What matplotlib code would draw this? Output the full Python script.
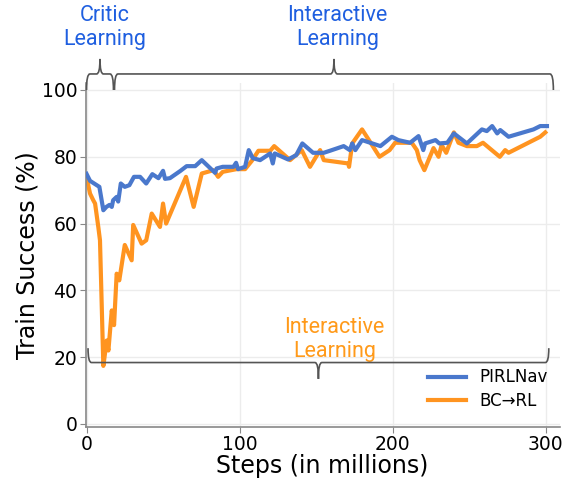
import numpy as np
import matplotlib.pyplot as plt
from matplotlib.path import Path
from matplotlib.patches import PathPatch

# Training curves (steps in millions, success in %)
pirl_steps = [0, 2.3, 6.7, 8.4, 11, 13, 15, 16.5, 17.4, 19.7, 20.7, 22.4, 25, 28,
              31, 35, 39, 43, 47, 50, 51.3, 54.5, 61.4, 65.4, 71, 75.3, 84, 85,
              89, 96, 97.7, 99, 103.6, 106, 108.6, 113.4, 120, 121.7, 123, 131.7,
              137, 141, 148, 155, 159, 168, 172, 173.6, 175.6, 180, 192, 199.5,
              203.7, 211.4, 216.9, 220, 221.2, 228, 230.5, 235.7, 240, 248.5,
              258.3, 261.5, 265, 268.3, 270.3, 275.7, 292, 296.4, 300.8]
pirl_success = [74.9, 72.8, 71.5, 71, 64, 65, 65.6, 65, 67, 68, 66.6, 72, 71,
                71.5, 74, 74, 72, 74.8, 73.6, 75.8, 73.4, 73.6, 75.8, 77.2, 77.2,
                79, 75.2, 76.5, 77, 77, 78.2, 76.3, 77, 82, 79.6, 79, 81, 78,
                81, 79.2, 80.5, 84, 81.2, 81.2, 81.8, 83.2, 82, 84, 82, 85, 83.2,
                86, 85, 84.2, 86.2, 82, 84, 85, 84, 84.2, 87, 84, 88.2, 87.7,
                89.2, 87, 88, 86, 88.2, 89.2, 89.2]

bc_steps = [0, 2.3, 4.4, 5.6, 7.7, 8.8, 11, 13.2, 14.3, 16.5, 18, 19.7, 21.4, 25,
            29.5, 30.5, 36, 39, 42.6, 48, 50, 52, 65, 70, 75.3, 83, 86, 89, 98,
            103.6, 108, 112.3, 120, 122.6, 133, 140.6, 146, 152.6, 155, 171,
            171.5, 173.6, 180, 184.5, 191.4, 198, 201.6, 212.5, 215.8, 217.6,
            220.7, 226.7, 230, 232, 235, 240, 243, 248.5, 255, 259, 270, 273.5,
            275.7, 296.4, 299.7]
bc_success = [74, 69, 67, 66, 59, 55, 17.4, 25, 22, 34, 29.6, 45, 43, 53.6, 49,
              59.6, 54, 55, 63, 59, 66, 60, 74, 65, 75, 76, 74, 75.5, 76.3,
              76.3, 78.8, 81.8, 81.8, 83.2, 79, 82, 77, 82, 79, 78, 77, 84,
              88.2, 85, 80, 82, 84.2, 84.2, 82, 79, 76, 82.6, 80, 83.5, 81.2,
              87.3, 84.2, 83.2, 83.2, 84.2, 80, 82, 81.2, 86, 87.3]

# phase spans for the braces
critic_span = (0, 17.6)
interactive_span = (18.3, 305)
bc_interactive_span = (1, 302)

BLUE = '#4a78cc'
ORANGE = '#ff9420'
TXT_BLUE = '#1f5fe0'
TXT_ORANGE = '#ff9a1a'


def brace(ax, x0, x1, y, h, tip, color='#555555'):
    """Curly brace from x0 to x1 at level y; ends bend by -h, centre tip to y+tip."""
    xm = (x0 + x1) / 2
    r = 2.2
    verts = [(x0, y - h), (x0, y), (x0 + r, y),
             (xm - r, y), (xm, y), (xm, y + tip),
             (xm, y), (xm + r, y),
             (x1 - r, y), (x1, y), (x1, y - h)]
    codes = [Path.MOVETO, Path.CURVE3, Path.CURVE3,
             Path.LINETO, Path.CURVE3, Path.CURVE3,
             Path.CURVE3, Path.CURVE3,
             Path.LINETO, Path.CURVE3, Path.CURVE3]
    ax.add_patch(PathPatch(Path(verts, codes), fill=False, edgecolor=color,
                           lw=1.2, clip_on=False, zorder=5))


fig = plt.figure(figsize=(5.63, 4.78), dpi=100)
ax = fig.add_axes([0.1523, 0.1067, 0.8415, 0.7197])

ax.plot(pirl_steps, pirl_success, color=BLUE, lw=3, label='PIRLNav', zorder=3)
ax.plot(bc_steps, bc_success, color=ORANGE, lw=3, label='BC\u2192RL', zorder=2)

ax.set_xlim(-0.5, 309)
ax.set_ylim(-0.9, 102.1)
ax.set_xticks([0, 100, 200, 300])
ax.set_yticks([0, 20, 40, 60, 80, 100])
ax.tick_params(labelsize=13.5, length=4, color='#888888', pad=2)
ax.grid(color='#ececec', lw=1)
ax.set_axisbelow(True)
for s in ['top', 'right']:
    ax.spines[s].set_visible(False)
for s in ['left', 'bottom']:
    ax.spines[s].set_color('#888888')
    ax.spines[s].set_linewidth(1.2)

ax.set_xlabel('Steps (in millions)', fontsize=17, labelpad=0)
ax.set_ylabel('Train Success (%)', fontsize=17, labelpad=2)

# braces above the axes and inside the plot
brace(ax, *critic_span, 104.8, 4.8, 4.5)
brace(ax, *interactive_span, 104.8, 4.8, 4.5)
brace(ax, *bc_interactive_span, 18.4, -4.3, -4.9)

ax.text(11.8, 118.8, 'Critic\nLearning', color=TXT_BLUE, fontsize=15.5,
        family='Roboto', ha='center', va='center', linespacing=1.2)
ax.text(164, 118.8, 'Interactive\nLearning', color=TXT_BLUE, fontsize=15.5,
        family='Roboto', ha='center', va='center', linespacing=1.2)
ax.text(162, 25.3, 'Interactive\nLearning', color=TXT_ORANGE, fontsize=15.5,
        family='Roboto', ha='center', va='center', linespacing=1.2)

ax.legend(loc='lower right', bbox_to_anchor=(1.0, 0.015), frameon=False,
          fontsize=12, handlelength=2.3, borderaxespad=0.3, labelspacing=0.35)

fig.savefig('out.png', dpi=100)
